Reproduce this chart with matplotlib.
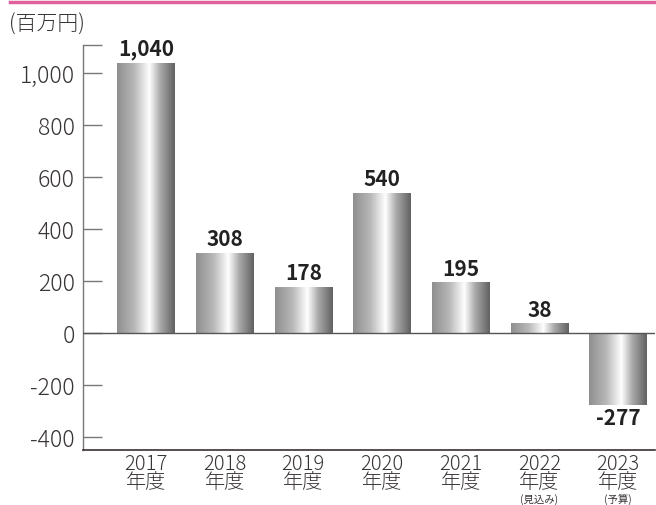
import numpy as np
import matplotlib
matplotlib.use("Agg")
import matplotlib.pyplot as plt
from matplotlib.colors import LinearSegmentedColormap
from matplotlib.lines import Line2D

plt.rcParams['font.family'] = ['Noto Sans CJK JP', 'DejaVu Sans']

years = ["2017", "2018", "2019", "2020", "2021", "2022", "2023"]
notes = ["", "", "", "", "", "(見込み)", "(予算)"]
values = [1040, 308, 178, 540, 195, 38, -277]
value_labels = ["1,040", "308", "178", "540", "195", "38", "-277"]
yticks = [-400, -200, 0, 200, 400, 600, 800, 1000]
ytick_labels = ["-400", "-200", "0", "200", "400", "600", "800", "1,000"]
unit = "(百万円)"

W, H = 656, 505
fig = plt.figure(figsize=(W / 100, H / 100), dpi=100)
ax = fig.add_axes([83 / W, (H - 450) / H, (655 - 83) / W, (450 - 45) / H])

txt_col = "#3a3535"
cmap = LinearSegmentedColormap.from_list(
    "metal",
    [(0.0, (0.56, 0.56, 0.56)), (0.3, (0.72, 0.72, 0.72)), (0.56, (1.0, 1.0, 1.0)),
     (0.75, (0.66, 0.66, 0.66)), (1.0, (0.38, 0.38, 0.38))])
grad = np.linspace(0, 1, 256).reshape(1, -1)

x = np.arange(len(values))
width = 0.725
bars = ax.bar(x, values, width=width, color="none", edgecolor="none", zorder=2)
for b in bars:
    x0 = b.get_x()
    y0, y1 = sorted([b.get_y(), b.get_y() + b.get_height()])
    im = ax.imshow(grad, cmap=cmap, aspect="auto",
                   extent=(x0, x0 + b.get_width(), y0, y1), zorder=2, interpolation="bilinear")
    im.set_clip_path(b)

for xi, v, lab in zip(x, values, value_labels):
    if v >= 0:
        ax.text(xi, v + 10, lab, ha="center", va="bottom", fontsize=15,
                fontweight="bold", color="#222222")
    else:
        ax.text(xi, v - 10, lab, ha="center", va="top", fontsize=15,
                fontweight="bold", color="#222222")

ax.set_xlim(-0.8, 6.47)
ax.set_ylim(-450, 1108)

ax.axhline(0, color="#555555", lw=1.0, zorder=3)

for s in ["top", "right"]:
    ax.spines[s].set_visible(False)
ax.spines["left"].set_color("#777777")
ax.spines["left"].set_linewidth(1.0)
ax.spines["bottom"].set_color("#3a3030")
ax.spines["bottom"].set_linewidth(1.2)

ax.set_yticks(yticks + [1108])
ax.set_yticklabels(ytick_labels + [""], fontsize=16.5, color=txt_col, fontweight="light")
ax.tick_params(axis="y", direction="in", length=14, width=1.0, color="#777777", pad=6)
ax.set_xticks(x)
ax.set_xticklabels([""] * len(x))
ax.tick_params(axis="x", length=0)

for xi, yr, nt in zip(x, years, notes):
    ax.text(xi, -542, yr + "\n年度", ha="center", va="center", fontsize=14.5, color=txt_col,
            fontweight="light", clip_on=False, linespacing=0.82)
    if nt:
        ax.text(xi, -641, nt, ha="center", va="center", fontsize=7.5, color=txt_col,
                clip_on=False)

fig.text(9 / W, 1 - 25 / H, unit, fontsize=15, color=txt_col, va="center", ha="left",
         fontweight="light")

fig.add_artist(Line2D([10 / W, 1.0], [1 - 1.5 / H, 1 - 1.5 / H], color="#e0609a", lw=2.5,
                      transform=fig.transFigure))

fig.savefig("out.png", dpi=100)
